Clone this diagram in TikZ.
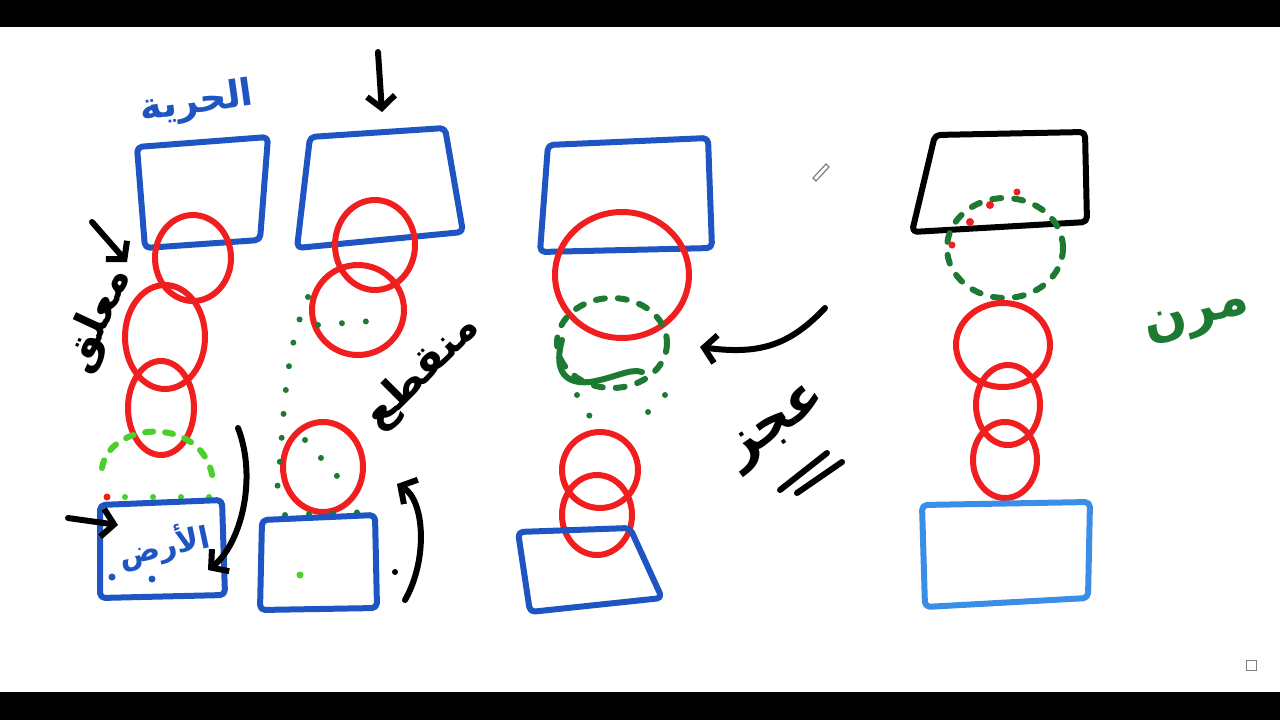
\documentclass[tikz,border=0pt]{standalone}
\usepackage{fontspec}
\newfontfamily\arabicfont[Script=Arabic]{DejaVu Sans}
\TeXXeTstate=1
\usetikzlibrary{arrows.meta}
\definecolor{penblue}{HTML}{1F55C2}
\definecolor{skyblue}{HTML}{3A8EE6}
\definecolor{penred}{HTML}{F01E1E}
\definecolor{pengreen}{HTML}{1E7A32}
\definecolor{limegreen}{HTML}{4ACF2E}
\tikzset{
  pen/.style={line width=6pt, line cap=round, line join=round},
  slab/.style={pen, draw=penblue, rounded corners=5pt},
  link/.style={pen, draw=penred},
  gap/.style={pen, draw=pengreen, dash pattern=on 9pt off 13pt},
  dots/.style={pen, draw=pengreen, dash pattern=on 0pt off 24pt},
  hint/.style={pen, draw=black, -{Straight Barb[length=12pt,width=28pt]}},
  word/.style={font=\arabicfont\bfseries\fontsize{34}{34}\selectfont, inner sep=0pt}
}

\begin{document}
\begin{tikzpicture}[x=1pt,y=-1pt]
  \useasboundingbox (0,0) rectangle (1280,720);
  \fill[black] (0,0) rectangle (1280,720);
  \fill[white] (0,27) rectangle (1280,692);

  % first chain
  \node[word, text=penblue, rotate=8, scale=1.1] (free) at (197,103) {\beginR الحرية\endR};
  \draw[slab] (137,147) -- (268,137) -- (260,240) -- (145,248) -- cycle;
  \draw[link] (193,258) ellipse [x radius=38, y radius=43];
  \draw[link] (165,337) ellipse [x radius=40, y radius=52];
  \draw[link] (161,408) ellipse [x radius=33, y radius=47];
  \draw[pen, draw=limegreen, dash pattern=on 8pt off 12pt] (102,468) .. controls (110,420) and (205,415) .. (213,480);
  \draw[pen, draw=limegreen, dash pattern=on 0pt off 28pt] (125,497) -- (215,497);
  \draw[slab] (100,505) -- (222,500) -- (225,595) -- (100,598) -- cycle;
  \node[word, text=penblue, rotate=12, scale=0.9] (ground) at (164,546) {\beginR الأرض\endR};
  \fill[penblue] (112,577) circle (3.5) (152,579) circle (3.5);
  \fill[penred] (107,497) circle (3.5);
  \node[word, rotate=65, scale=1.3] (hang) at (98,320) {\beginR معلق\endR};
  \coordinate (h1) at (92,222);
  \coordinate (h2) at (127,262);
  \draw[hint] (h1) -- (h2);
  \coordinate (g1) at (68,518);
  \coordinate (g2) at (118,525);
  \draw[hint] (g1) -- (g2);
  \coordinate (b1) at (238,428);
  \coordinate (b2) at (208,570);
  \draw[hint] (b1) .. controls (258,480) and (240,545) .. (b2);

  % second chain
  \coordinate (t1) at (378,52);
  \coordinate (t2) at (382,112);
  \draw[hint] (t1) -- (t2);
  \draw[slab] (310,137) -- (445,128) -- (463,232) -- (297,248) -- cycle;
  \draw[link] (375,245) ellipse [x radius=40, y radius=45];
  \draw[link] (358,310) ellipse [x radius=46, y radius=45];
  \draw[link] (323,467) ellipse [x radius=40, y radius=45];
  \draw[dots] (308,297) .. controls (280,360) and (285,440) .. (275,505);
  \draw[dots] (318,325) -- (385,320);
  \draw[dots] (285,515) -- (370,512);
  \draw[dots] (305,440) -- (345,485);
  \draw[slab] (262,520) -- (375,515) -- (377,608) -- (260,610) -- cycle;
  \fill[limegreen] (300,575) circle (3.5);
  \fill[black] (395,572) circle (3);
  \node[word, rotate=45, scale=1.25] (cut) at (422,372) {\beginR منقطع\endR};
  \coordinate (u1) at (405,600);
  \coordinate (u2) at (397,484);
  \draw[hint] (u1) .. controls (428,560) and (425,500) .. (u2);

  % third chain
  \draw[slab] (548,145) -- (708,138) -- (712,248) -- (540,252) -- cycle;
  \draw[link] (622,275) ellipse [x radius=67, y radius=63];
  \draw[gap] (612,343) ellipse [x radius=55, y radius=45];
  \draw[pen, draw=pengreen] (562,340) .. controls (555,365) and (560,385) .. (590,382) .. controls (615,378) and (630,368) .. (642,372);
  \draw[dots] (577,395) -- (592,420);
  \draw[dots] (665,395) -- (640,420);
  \draw[link] (600,470) ellipse [x radius=38, y radius=38];
  \draw[link] (597,515) ellipse [x radius=35, y radius=40];
  \draw[slab] (518,532) -- (630,528) -- (662,598) -- (530,612) -- cycle;
  \coordinate (w1) at (825,308);
  \coordinate (w2) at (700,347);
  \draw[hint] (w1) .. controls (790,345) and (760,355) .. (w2);
  \node[word, rotate=35, scale=1.6] (weak) at (778,428) {\beginR عجز\endR};
  \coordinate (s1) at (780,490);
  \coordinate (s2) at (827,453);
  \coordinate (s3) at (797,493);
  \coordinate (s4) at (842,462);
  \draw[pen] (s1) -- (s2) (s3) -- (s4);
  \draw[gray, line width=1.2pt] (813,178) -- (826,164) -- (829,167) -- (816,181) -- cycle;

  % fourth chain
  \draw[pen, draw=black, rounded corners=5pt] (935,135) -- (1085,132) -- (1087,222) -- (912,232) -- cycle;
  \draw[gap] (1005,248) ellipse [x radius=58, y radius=50];
  \fill[penred] (970,222) circle (4) (990,205) circle (4) (1017,192) circle (3.5) (952,245) circle (3.5);
  \draw[link] (1003,345) ellipse [x radius=47, y radius=42];
  \draw[link] (1008,405) ellipse [x radius=32, y radius=40];
  \draw[link] (1005,460) ellipse [x radius=32, y radius=38];
  \draw[pen, draw=skyblue, rounded corners=5pt] (922,505) -- (1090,502) -- (1088,598) -- (925,607) -- cycle;
  \node[word, text=pengreen, rotate=15, scale=1.5] (soft) at (1198,320) {\beginR مرن\endR};
  \draw[gray, line width=1pt] (1246,660) rectangle (1256,670);
\end{tikzpicture}
\end{document}
